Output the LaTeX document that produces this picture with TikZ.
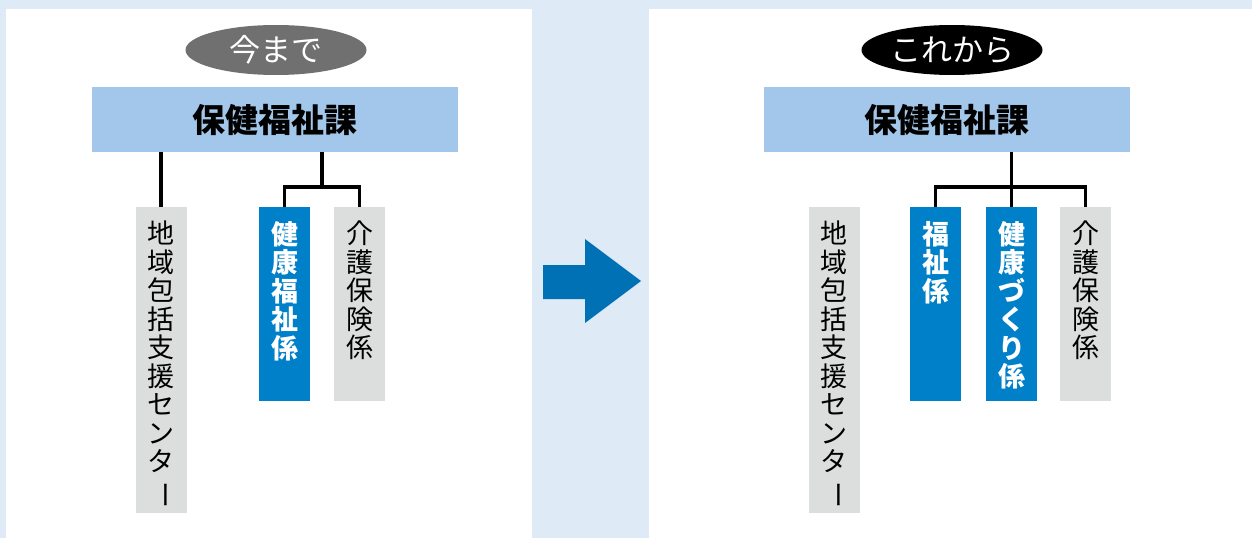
\documentclass[tikz,border=0pt]{standalone}
\usepackage{fontspec}
\usetikzlibrary{positioning,shapes.geometric,calc}
\newfontfamily\jpfont{Noto Sans CJK JP}
\definecolor{pagebg}{HTML}{DEEAF6}
\definecolor{kablue}{HTML}{A3C7EA}
\definecolor{kakariblue}{HTML}{0080C8}
\definecolor{arrowblue}{HTML}{0071B5}
\definecolor{kakarigray}{HTML}{DCDDDD}
\definecolor{tagdark}{HTML}{707070}
\newcommand{\chouon}{\rotatebox[origin=c]{-90}{ー}}

\begin{document}
\begin{tikzpicture}[x=1pt,y=-1pt,
    ka/.style={fill=kablue, minimum width=366, minimum height=65, inner sep=0,
      font=\jpfont\bfseries\fontsize{33}{33}\selectfont},
    tag/.style={ellipse, minimum width=181, minimum height=50, inner sep=0,
      text=white, font=\jpfont\fontsize{31}{31}\selectfont},
    kakari/.style={anchor=north, minimum width=51, inner sep=0},
    tate/.style={anchor=north, align=center, inner sep=0,
      font=\jpfont\fontsize{27}{28.5}\selectfont},
    tatebold/.style={tate, text=white, font=\jpfont\bfseries\fontsize{27}{28.5}\selectfont},
    link/.style={line width=3.5pt}]

    % panels
    \fill[pagebg] (0,0) rectangle (1252,538);
    \fill[white] (6,9) rectangle (532,538);
    \fill[white] (649,9) rectangle (1252,538);
    \useasboundingbox (0,0) rectangle (1252,538);

    % before
    \node[tag, fill=tagdark] (ima) at (276,50) {今まで};
    \node[ka] (ka1) at (275,119.5) {保健福祉課};

    \node[kakari, fill=kakarigray, minimum height=306] (chiiki1) at (161,207) {};
    \node[kakari, fill=kakariblue, minimum height=194] (kenfuku1) at (284.5,207) {};
    \node[kakari, fill=kakarigray, minimum height=194] (kaigo1) at (359.5,207) {};

    \node[tate, below=14pt of chiiki1.north] (chiiki1t) {地\\域\\包\\括\\支\\援\\セ\\ン\\タ\\\chouon};
    \node[tatebold, below=14pt of kenfuku1.north] (kenfuku1t) {健\\康\\福\\祉\\係};
    \node[tate, below=14pt of kaigo1.north] (kaigo1t) {介\\護\\保\\険\\係};

    \coordinate (br1) at ($(kenfuku1.north)!0.5!(kaigo1.north) + (0,-20)$);
    \draw[link] (ka1.south -| chiiki1) -- (chiiki1.north);
    \draw[link] (ka1.south -| br1) -- (br1);
    \draw[link] (kenfuku1.north) |- (br1) -| (kaigo1.north);

    % arrow
    \fill[arrowblue] (543,265) -- (585,265) -- (585,239) -- (641,281)
        -- (585,323) -- (585,299) -- (543,299) -- cycle;

    % after
    \node[tag, fill=black] (korekara) at (952,50) {これから};
    \node[ka] (ka2) at (947,119.5) {保健福祉課};

    \node[kakari, fill=kakarigray, minimum height=306] (chiiki2) at (834,207) {};
    \node[kakari, fill=kakariblue, minimum height=194] (fukushi2) at (935.5,207) {};
    \node[kakari, fill=kakariblue, minimum height=194] (kenkou2) at (1011.5,207) {};
    \node[kakari, fill=kakarigray, minimum height=194] (kaigo2) at (1085.5,207) {};

    \node[tate, below=14pt of chiiki2.north] (chiiki2t) {地\\域\\包\\括\\支\\援\\セ\\ン\\タ\\\chouon};
    \node[tatebold, below=14pt of fukushi2.north] (fukushi2t) {福\\祉\\係};
    \node[tatebold, below=14pt of kenkou2.north] (kenkou2t) {健\\康\\づ\\く\\り\\係};
    \node[tate, below=14pt of kaigo2.north] (kaigo2t) {介\\護\\保\\険\\係};

    \coordinate (br2) at ($(kenkou2.north) + (0,-20)$);
    \draw[link] (ka2.south -| br2) -- (kenkou2.north);
    \draw[link] (fukushi2.north) |- (br2) -| (kaigo2.north);
\end{tikzpicture}
\end{document}
